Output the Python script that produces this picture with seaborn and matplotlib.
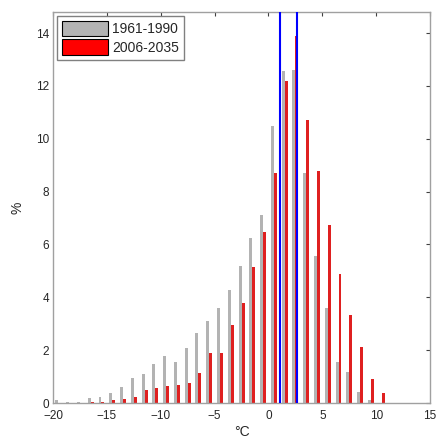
import numpy as np
import pandas as pd
import matplotlib
matplotlib.use('Agg')
import matplotlib.pyplot as plt
from matplotlib.patches import Patch
import seaborn as sns

# bin centres (deg C) and percentages
bins = [-19.5, -18.5, -17.5, -16.5, -15.5, -14.5, -13.5, -12.5, -11.5, -10.5,
        -9.5, -8.5, -7.5, -6.5, -5.5, -4.5, -3.5, -2.5, -1.5, -0.5,
        0.5, 1.5, 2.5, 3.5, 4.5, 5.5, 6.5, 7.5, 8.5, 9.5, 10.5]
past = [0.10, 0.05, 0.05, 0.20, 0.24, 0.37, 0.62, 0.96, 1.10, 1.47,
        1.79, 1.56, 2.08, 2.63, 3.12, 3.60, 4.29, 5.20, 6.26, 7.10,
        10.47, 12.56, 12.59, 8.72, 5.57, 3.61, 1.57, 1.19, 0.43, 0.11, 0.0]
future = [0.0, 0.0, 0.0, 0.05, 0.05, 0.12, 0.16, 0.22, 0.50, 0.56,
          0.65, 0.69, 0.76, 1.14, 1.88, 1.90, 2.97, 3.77, 5.13, 6.46,
          8.72, 12.20, 13.90, 10.72, 8.78, 6.75, 4.87, 3.32, 2.11, 0.91, 0.37]
periods = ['1961-1990', '2006-2035']
means = [1.1, 2.6]

df = pd.DataFrame({
    'temp': bins * 2,
    'pct': past + future,
    'period': [periods[0]] * len(bins) + [periods[1]] * len(bins),
})

sns.set_style('white')
plt.rcParams['font.family'] = ['Liberation Sans', 'DejaVu Sans']

fig = plt.figure(figsize=(4.38, 4.46), dpi=100)
ax = fig.add_axes([0.121, 0.0964, 0.861, 0.877])

colors = {periods[0]: '#b3b3b3', periods[1]: '#ff0000'}
sns.barplot(data=df, x='temp', y='pct', hue='period', palette=colors,
            native_scale=True, width=0.55, gap=0, errorbar=None,
            linewidth=0, ax=ax, legend=False)

for m in means:
    ax.axvline(m, color='#0000ff', lw=1.5, zorder=5)

ax.set_xlim(-20, 15)
ax.set_ylim(0, 14.8)
ax.set_xticks(range(-20, 16, 5))
ax.set_yticks(range(0, 15, 2))
ax.tick_params(direction='in', top=True, right=True, length=3,
               color='#404040', labelsize=8.5)
ax.tick_params(axis='x', pad=5)
ax.tick_params(axis='y', pad=3)
for s in ax.spines.values():
    s.set_color('#a0a0a0')
    s.set_linewidth(1.0)

ax.set_xlabel('°C', fontsize=10, labelpad=2)
ax.set_ylabel('%', fontsize=10, labelpad=8)

handles = [Patch(facecolor=colors[p], edgecolor='black', linewidth=0.8) for p in periods]
leg = ax.legend(handles, periods, loc='upper left', fontsize=10,
                handlelength=3.3, handleheight=1.35, handletextpad=0.3,
                borderpad=0.35, labelspacing=0.2, fancybox=False,
                framealpha=1, borderaxespad=0.3)
leg.get_frame().set_edgecolor('#808080')
leg.get_frame().set_linewidth(1.0)

fig.savefig('out.png', dpi=100)
